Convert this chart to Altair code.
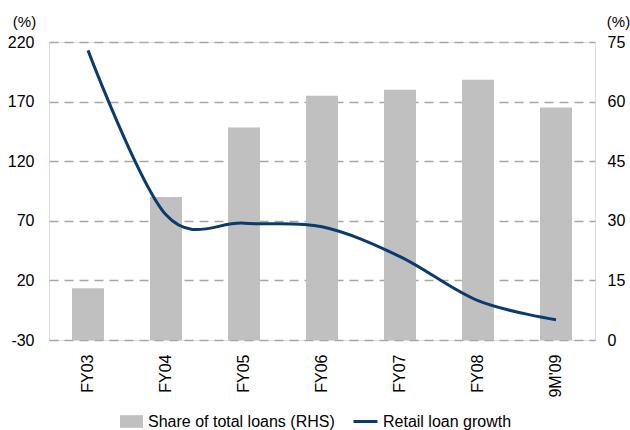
import altair as alt
import pandas as pd

categories = ["FY03", "FY04", "FY05", "FY06", "FY07", "FY08", "9M'09"]
share_total_loans = [13, 36, 53.5, 61.5, 63, 65.5, 58.5]
retail_loan_growth = [213, 75, 68, 65, 40, 3, -13]

df = pd.DataFrame({
    "cat": categories,
    "share": share_total_loans,
    "growth": retail_loan_growth,
    "s_bar": "Share of total loans (RHS)",
    "s_line": "Retail loan growth",
})

FONT = "Liberation Sans"
GRID = "#a6a6a6"

x_enc = alt.X(
    "cat:N", sort=categories, title=None,
    scale=alt.Scale(paddingInner=0.59, paddingOuter=0.295),
    axis=alt.Axis(labelAngle=-90, labelPadding=14, ticks=False, domain=False,
                  labelFontSize=16, labelFont=FONT, labelColor="#000"),
)

bars = alt.Chart(df).mark_bar(color="#c0c0c0").encode(
    x=x_enc,
    y=alt.Y("share:Q", scale=alt.Scale(domain=[0, 75], nice=False, zero=True),
            axis=alt.Axis(orient="right", values=[0, 15, 30, 45, 60, 75], grid=False,
                          ticks=False, domain=False, labelPadding=12,
                          labelExpr="datum.value + ''",
                          labelFontSize=16, labelFont=FONT, labelColor="#000",
                          title="(%)", titleAngle=0, titleAlign="center",
                          titleBaseline="middle", titleX=23, titleY=-21,
                          titleFontSize=15, titleFont=FONT, titleFontWeight="normal",
                          titleColor="#000")),
    fill=alt.Fill("s_bar:N", scale=alt.Scale(domain=["Share of total loans (RHS)"], range=["#c0c0c0"]),
                  legend=alt.Legend(title=None, orient="none", legendX=71, legendY=368,
                                    symbolType="M-1,-0.55L1,-0.55L1,0.55L-1,0.55Z",
                                    symbolSize=529, symbolStrokeWidth=0,
                                    labelFontSize=16, labelFont=FONT, labelColor="#000",
                                    labelOffset=5, labelLimit=400, padding=0)),
)

line = alt.Chart(df).mark_line(strokeWidth=3, interpolate="cardinal", tension=0).encode(
    x=alt.X("cat:N", sort=categories),
    y=alt.Y("growth:Q", scale=alt.Scale(domain=[-30, 220], nice=False, zero=False),
            axis=alt.Axis(orient="left", values=[-30, 20, 70, 120, 170, 220], grid=True,
                          gridDash=[9, 6], gridColor=GRID, gridWidth=1.3,
                          ticks=False, domain=False, labelPadding=15,
                          labelExpr="datum.value + ''",
                          labelFontSize=16, labelFont=FONT, labelColor="#000",
                          title="(%)", titleAngle=0, titleAlign="center",
                          titleBaseline="middle", titleX=-25, titleY=-21,
                          titleFontSize=15, titleFont=FONT, titleFontWeight="normal",
                          titleColor="#000")),
    stroke=alt.Stroke("s_line:N", scale=alt.Scale(domain=["Retail loan growth"], range=["#0b3a6e"]),
                      legend=alt.Legend(title=None, orient="none", legendX=303, legendY=366,
                                        symbolType="stroke", symbolSize=576, symbolStrokeWidth=3,
                                        labelFontSize=16, labelFont=FONT, labelColor="#000",
                                        labelOffset=4, labelLimit=400, padding=0)),
)

chart = alt.layer(bars, line).resolve_scale(y="independent", fill="independent", stroke="independent").properties(
    width=546, height=298,
    autosize=alt.AutoSizeParams(type="none"),
    padding={"left": 49, "top": 42, "right": 35, "bottom": 90},
).configure_view(stroke=None).configure(font=FONT)

chart.save("out.html", embed_options={"renderer": "svg", "actions": False})
